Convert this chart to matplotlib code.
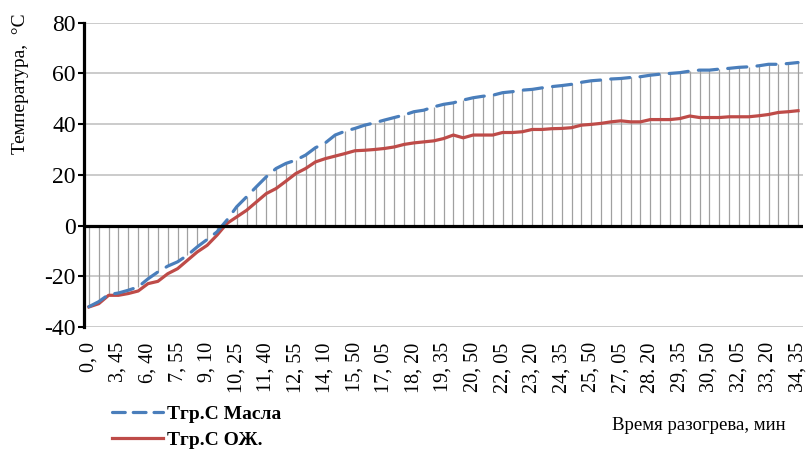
import numpy as np
from matplotlib import pyplot as plt
from matplotlib.lines import Line2D

plt.rcParams['font.family'] = ['Liberation Serif', 'DejaVu Serif']
plt.rcParams['axes.unicode_minus'] = False

# Temperature readings, one every 25 s
t_oil = [-32.0, -30.0, -27.2, -26.6, -25.5, -24.2, -21.0, -18.3, -16.0, -14.3,
         -11.7, -8.4, -5.5, -2.5, 2.1, 7.4, 11.3, 15.3, 19.2, 22.5,
         24.5, 25.8, 27.8, 30.7, 32.6, 35.7, 37.2, 38.3, 39.6, 40.5,
         41.6, 42.6, 43.6, 44.9, 45.5, 46.8, 47.8, 48.4, 49.5, 50.4,
         51.0, 51.4, 52.4, 52.8, 53.4, 53.7, 54.3, 54.8, 55.2, 55.7,
         56.5, 57.1, 57.4, 57.8, 58.0, 58.4, 58.7, 59.3, 59.7, 60.0,
         60.3, 60.9, 61.3, 61.3, 61.7, 62.0, 62.4, 62.6, 63.0, 63.6,
         63.6, 63.9, 64.3]
t_cool = [-32.1, -30.8, -27.5, -27.5, -26.8, -25.8, -22.9, -22.0, -19.0, -17.0,
          -13.7, -10.4, -7.8, -3.8, 0.8, 3.4, 6.0, 9.3, 12.6, 14.6,
          17.5, 20.5, 22.5, 25.1, 26.4, 27.4, 28.4, 29.5, 29.7, 30.0,
          30.4, 31.0, 32.0, 32.6, 33.0, 33.4, 34.3, 35.7, 34.6, 35.7,
          35.7, 35.7, 36.7, 36.7, 37.0, 37.9, 37.9, 38.2, 38.3, 38.6,
          39.6, 39.9, 40.3, 40.9, 41.3, 40.9, 40.9, 41.8, 41.8, 41.8,
          42.2, 43.2, 42.6, 42.6, 42.6, 42.9, 42.9, 42.9, 43.3, 43.8,
          44.6, 44.9, 45.3]

tick_labels = ['0, 0', '3, 45', '6, 40', '7, 55', '9, 10', '10, 25', '11, 40',
               '12, 55', '14, 10', '15, 50', '17, 05', '18, 20', '19, 35',
               '20, 50', '22, 05', '23, 20', '24, 35', '25, 50', '27, 05',
               '28. 20', '29, 35', '30, 50', '32, 05', '33, 20', '34, 35']
label_step = 3


def main():
    fig = plt.figure(figsize=(8.06, 4.5), dpi=100)
    ax = fig.add_axes([84 / 806, 1 - 327 / 450, 719 / 806, 304.3 / 450])

    x = np.arange(len(t_oil))
    top = np.maximum(t_oil, t_cool)

    # Drop lines
    ax.vlines(x, 0, top, color='#a0a0a0', lw=0.9, zorder=1)

    ax.plot(x, t_oil, color='#4a7ebb', lw=2.3, ls=(0, (6, 3.2)),
            dash_capstyle='round', zorder=4)
    ax.plot(x, t_cool, color='#be4b48', lw=2.3, zorder=3)

    ax.axhline(0, color='black', lw=2.3, zorder=5)

    ax.set_xlim(-0.5, len(x) - 0.5)
    ax.set_ylim(-40, 80)
    ax.set_yticks(range(-40, 81, 20))
    ax.yaxis.grid(True, color='#bdbdbd', lw=1.1)
    ax.set_axisbelow(True)

    ax.set_xticks(x[::label_step])
    ax.set_xticklabels(tick_labels, rotation=90, fontsize=14.5, va='top')
    ax.tick_params(axis='x', length=0, pad=11)
    ax.tick_params(axis='y', length=4, width=1.5, pad=2, labelsize=17,
                   color='black')

    for s in ['top', 'right', 'bottom']:
        ax.spines[s].set_visible(False)
    ax.spines['left'].set_linewidth(2.3)
    ax.spines['left'].set_zorder(6)

    fig.text(21 / 806, 1 - 84 / 450, 'Температура,  °C', rotation=90,
             ha='center', va='center', fontsize=14)
    fig.text(699 / 806, 1 - 430 / 450, 'Время разогрева, мин',
             ha='center', va='baseline', fontsize=13.5)

    handles = [Line2D([], [], color='#4a7ebb', lw=2.3, ls=(0, (4, 2.5)),
                      dash_capstyle='round'),
               Line2D([], [], color='#be4b48', lw=2.3)]
    fig.legend(handles, ['Тгр.С Масла', 'Тгр.С ОЖ.'], loc='upper left',
               bbox_to_anchor=(112 / 806, 1 - 405 / 450), frameon=False,
               prop={'weight': 'bold', 'size': 14}, handlelength=2.6,
               handletextpad=0.25, labelspacing=0.45, borderpad=0,
               borderaxespad=0)

    fig.savefig('out.png', dpi=100)
    plt.close()


if __name__ == '__main__':
    main()
